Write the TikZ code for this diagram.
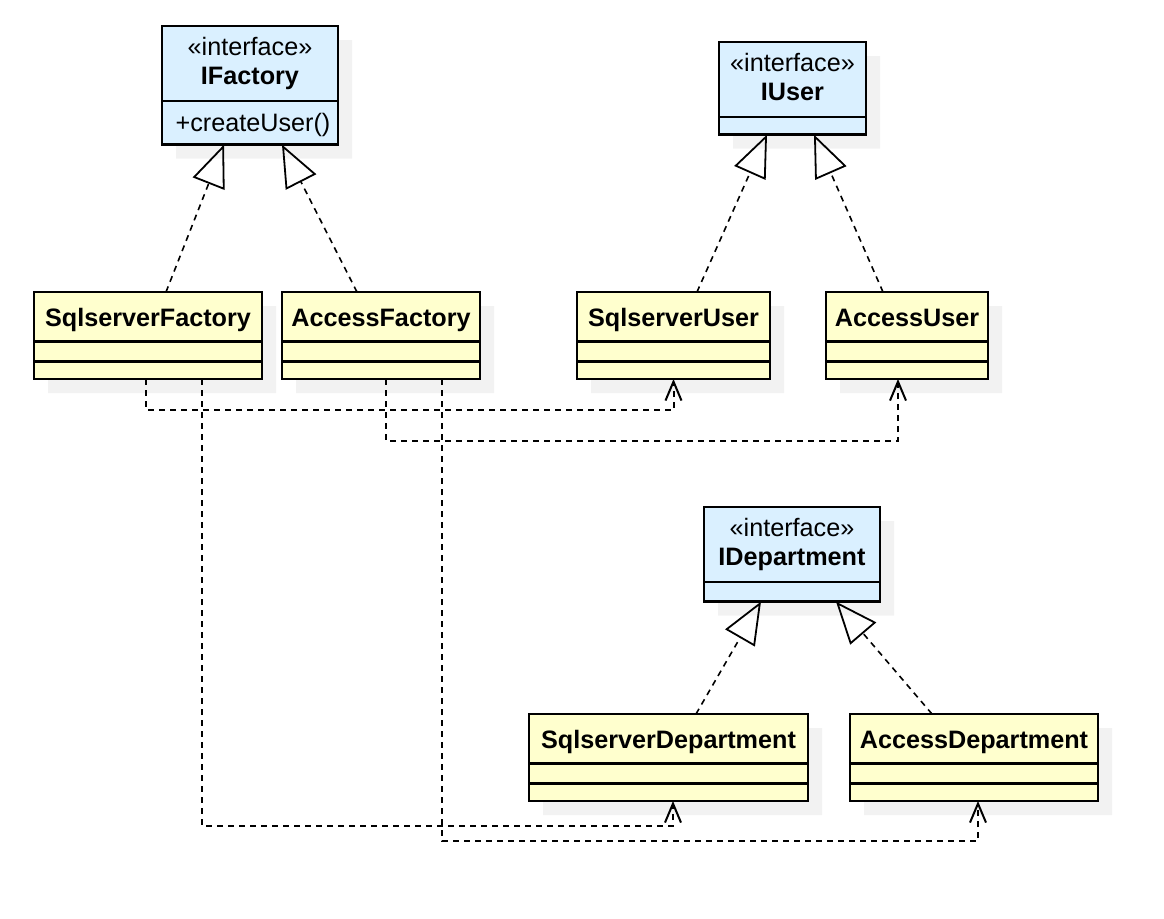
\documentclass[tikz,border=0pt]{standalone}
\usepackage{fontspec}
\setmainfont{Liberation Sans}
\usepackage{tikz}
\usetikzlibrary{arrows.meta,shapes.multipart,shadows}
\definecolor{ifaceblue}{RGB}{218,240,255}
\definecolor{classyellow}{RGB}{255,255,206}
\newcommand\classname[1]{\rule[-6.8pt]{0pt}{23.6pt}\textbf{#1}}
\newcommand\ifacehead[1]{\rule{0pt}{13.9pt}«interface»\\\textbf{#1}\rule[-7.9pt]{0pt}{7.9pt}}
\tikzset{
  umlbox/.style={
    % The shape:
    rectangle split,
    anchor=north west,
    % The size:
    inner xsep=0pt,inner ysep=0pt,outer sep=0pt,
    align=center,
    % The border:
    line width=1.2pt,
    draw=black,
    % The shadow:
    general shadow={fill=black!5,shadow xshift=7pt,shadow yshift=-7pt},
    font=\fontsize{12.6}{14.5}\selectfont,
  },
  ifacebox/.style={
    umlbox,
    rectangle split parts=2,
    fill=ifaceblue},
  classbox/.style={
    umlbox,
    rectangle split parts=3,
    fill=classyellow}
}

\begin{document}
\begin{tikzpicture}[x=0.5pt,y=-0.5pt,
                    realize/.style={dash pattern=on 3pt off 2.5pt,line width=0.8pt,
                      -{Triangle[open,length=21pt,width=17pt,line width=0.9pt]}},
                    depend/.style={dash pattern=on 3pt off 2.5pt,line width=1pt,
                      -{Straight Barb[length=9.5pt,width=8pt]}}]
  \useasboundingbox (0,0) rectangle (1164,918);

  % interfaces
  \node (ifactory) [ifacebox,text width=88pt] at (162,26)
    {\ifacehead{IFactory}\nodepart{two}\rule[-5.8pt]{0pt}{20.6pt}\hspace*{3pt}+createUser()\hfill};
  \node (iuser) [ifacebox,text width=73.5pt] at (719,42)
    {\ifacehead{IUser}\nodepart{two}\rule{0pt}{7.6pt}};
  \node (idept) [ifacebox,text width=88pt] at (704,507)
    {\ifacehead{IDepartment}\nodepart{two}\rule{0pt}{8.6pt}};

  % classes
  \node (sqlfac) [classbox,text width=114pt] at (34,292)
    {\classname{SqlserverFactory}\nodepart{two}\rule{0pt}{8.7pt}\nodepart{three}\rule{0pt}{7.6pt}};
  \node (accfac) [classbox,text width=99pt] at (282,292)
    {\classname{AccessFactory}\nodepart{two}\rule{0pt}{8.7pt}\nodepart{three}\rule{0pt}{7.6pt}};
  \node (sqluser) [classbox,text width=96.5pt] at (577,292)
    {\classname{SqlserverUser}\nodepart{two}\rule{0pt}{8.7pt}\nodepart{three}\rule{0pt}{7.6pt}};
  \node (accuser) [classbox,text width=81pt] at (826,292)
    {\classname{AccessUser}\nodepart{two}\rule{0pt}{8.7pt}\nodepart{three}\rule{0pt}{7.6pt}};
  \node (sqldept) [classbox,text width=139.5pt] at (529,714)
    {\classname{SqlserverDepartment}\nodepart{two}\rule{0pt}{8.7pt}\nodepart{three}\rule{0pt}{7.6pt}};
  \node (accdept) [classbox,text width=124pt] at (850,714)
    {\classname{AccessDepartment}\nodepart{two}\rule{0pt}{8.7pt}\nodepart{three}\rule{0pt}{7.6pt}};

  % realizations
  \draw[realize] ([xshift=9pt]sqlfac.north)      -- ([xshift=-13pt]ifactory.south);
  \draw[realize] ([xshift=-12pt]accfac.north)    -- ([xshift=16pt]ifactory.south);
  \draw[realize] ([xshift=11.75pt]sqluser.north) -- ([xshift=-12.75pt]iuser.south);
  \draw[realize] ([xshift=-12pt]accuser.north)   -- ([xshift=10.75pt]iuser.south);
  \draw[realize] ([xshift=13.75pt]sqldept.north) -- ([xshift=-15.5pt]idept.south);
  \draw[realize] ([xshift=-21pt]accdept.north)   -- ([xshift=22pt]idept.south);

  % dependencies
  \draw[depend] ([xshift=-1pt]sqlfac.south)   -- ++(0,31)  -| (sqluser.south);
  \draw[depend] ([xshift=27pt]sqlfac.south)   -- ++(0,447) -| ([xshift=2.25pt]sqldept.south);
  \draw[depend] ([xshift=2.5pt]accfac.south)  -- ++(0,62)  -| ([xshift=-4.5pt]accuser.south);
  \draw[depend] ([xshift=30.5pt]accfac.south) -- ++(0,462) -| ([xshift=2pt]accdept.south);
\end{tikzpicture}
\end{document}
